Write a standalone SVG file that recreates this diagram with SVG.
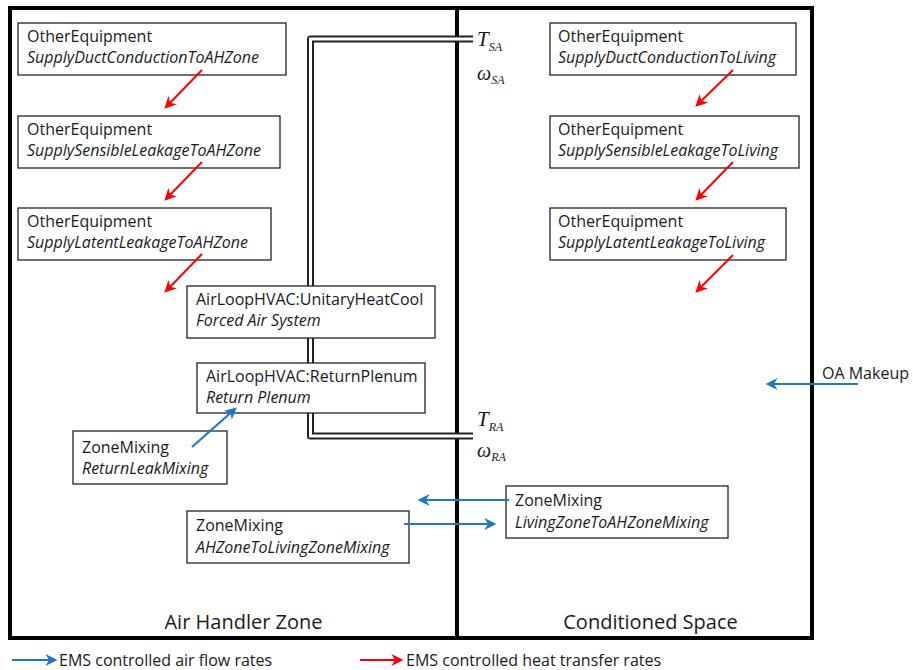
<svg xmlns="http://www.w3.org/2000/svg" width="913" height="670" viewBox="0 0 913 670">
<defs>
<style>
.box{fill:#fff;stroke:#222;stroke-width:1.3}
.t{font-family:"Open Sans","Liberation Sans",sans-serif;font-size:16px;fill:#1a1a1a}
.i{font-style:italic}
.zone{font-family:"Open Sans","Liberation Sans",sans-serif;font-size:20px;fill:#1a1a1a}
.leg{font-family:"Open Sans","Liberation Sans",sans-serif;font-size:16px;fill:#1a1a1a}
.m{font-family:"Liberation Serif",serif;font-style:italic;fill:#1a1a1a}
.red{stroke:#ff0000;stroke-width:2;fill:none;marker-end:url(#ar)}
.blue{stroke:#1f78c8;stroke-width:2.2;fill:none;marker-end:url(#ab)}
</style>
<marker id="ar" viewBox="0 0 10 10" refX="8" refY="5" markerWidth="12" markerHeight="12" orient="auto" markerUnits="userSpaceOnUse">
<path d="M0,0 L10,5 L0,10 L3,5 z" fill="#ff0000"/>
</marker>
<marker id="ab" viewBox="0 0 10 10" refX="8" refY="5" markerWidth="12" markerHeight="12" orient="auto" markerUnits="userSpaceOnUse">
<path d="M0,0 L10,5 L0,10 L3,5 z" fill="#1f78c8"/>
</marker>
</defs>
<rect width="913" height="670" fill="#fff"/>

<g id="frame">
<rect x="10" y="8" width="802" height="630" fill="none" stroke="#000" stroke-width="4"/>
<line x1="457" y1="8" x2="457" y2="638" stroke="#000" stroke-width="4"/>
</g>

<g id="duct">
<path d="M473,39 L310.5,39 L310.5,436 L473,436" fill="none" stroke="#222" stroke-width="7" stroke-linejoin="round"/>
<path d="M473,39 L310.5,39 L310.5,436 L473,436" fill="none" stroke="#fff" stroke-width="3" stroke-linejoin="miter"/>
</g>

<g id="labels-sa">
<text class="m" x="477" y="46" font-size="21">T<tspan font-size="12" dy="5">SA</tspan></text>
<text class="m" x="477" y="80" font-size="20">ω<tspan font-size="12" dy="4">SA</tspan></text>
</g>
<g id="labels-ra">
<text class="m" x="477" y="426" font-size="21">T<tspan font-size="12" dy="5">RA</tspan></text>
<text class="m" x="477" y="457" font-size="20">ω<tspan font-size="12" dy="4">RA</tspan></text>
</g>

<g id="ah-oe1">
<rect class="box" x="18" y="23" width="268" height="52"/>
<text class="t" x="27" y="42">OtherEquipment</text>
<text class="t i" x="27" y="63">SupplyDuctConductionToAHZone</text>
</g>
<g id="ah-oe2">
<rect class="box" x="18" y="116" width="262" height="52"/>
<text class="t" x="27" y="135">OtherEquipment</text>
<text class="t i" x="27" y="156">SupplySensibleLeakageToAHZone</text>
</g>
<g id="ah-oe3">
<rect class="box" x="18" y="208" width="253" height="52"/>
<text class="t" x="27" y="227">OtherEquipment</text>
<text class="t i" x="27" y="248">SupplyLatentLeakageToAHZone</text>
</g>

<g id="unitary">
<rect class="box" x="187" y="286" width="248" height="52"/>
<text class="t" x="196" y="305">AirLoopHVAC:UnitaryHeatCool</text>
<text class="t i" x="196" y="326">Forced Air System</text>
</g>
<g id="plenum">
<rect class="box" x="197" y="363" width="228" height="50"/>
<text class="t" x="206" y="382">AirLoopHVAC:ReturnPlenum</text>
<text class="t i" x="206" y="403">Return Plenum</text>
</g>
<g id="returnleak">
<rect class="box" x="73" y="431" width="154" height="53"/>
<text class="t" x="82" y="453">ZoneMixing</text>
<text class="t i" x="82" y="474">ReturnLeakMixing</text>
</g>
<g id="ah2living">
<rect class="box" x="187" y="511" width="222" height="52"/>
<text class="t" x="196" y="531">ZoneMixing</text>
<text class="t i" x="196" y="553">AHZoneToLivingZoneMixing</text>
</g>
<g id="living2ah">
<rect class="box" x="506" y="486" width="222" height="52"/>
<text class="t" x="515" y="506">ZoneMixing</text>
<text class="t i" x="515" y="528">LivingZoneToAHZoneMixing</text>
</g>

<g id="lv-oe1">
<rect class="box" x="550" y="23" width="246" height="52"/>
<text class="t" x="558" y="42">OtherEquipment</text>
<text class="t i" x="558" y="63">SupplyDuctConductionToLiving</text>
</g>
<g id="lv-oe2">
<rect class="box" x="550" y="116" width="249" height="52"/>
<text class="t" x="558" y="135">OtherEquipment</text>
<text class="t i" x="558" y="156">SupplySensibleLeakageToLiving</text>
</g>
<g id="lv-oe3">
<rect class="box" x="550" y="208" width="236" height="52"/>
<text class="t" x="558" y="227">OtherEquipment</text>
<text class="t i" x="558" y="248">SupplyLatentLeakageToLiving</text>
</g>

<g id="oa-makeup">
<text class="t" x="822" y="379">OA Makeup</text>
</g>

<g id="connectors">
<line class="red" x1="202" y1="70" x2="166" y2="107"/>
<line class="red" x1="202" y1="162" x2="166" y2="199"/>
<line class="red" x1="202" y1="254" x2="166" y2="291"/>
<line class="red" x1="733" y1="70" x2="697" y2="105"/>
<line class="red" x1="733" y1="162" x2="697" y2="199"/>
<line class="red" x1="733" y1="255" x2="697" y2="291"/>
<line class="blue" x1="192" y1="447" x2="235" y2="409"/>
<line class="blue" x1="404" y1="524" x2="494" y2="524"/>
<line class="blue" x1="509" y1="500" x2="420" y2="500"/>
<line class="blue" x1="858" y1="384" x2="768" y2="384"/>
</g>

<g id="zones">
<text class="zone" x="243.5" y="629" text-anchor="middle">Air Handler Zone</text>
<text class="zone" x="650.5" y="629" text-anchor="middle">Conditioned Space</text>
</g>

<g id="legend">
<line class="blue" x1="12" y1="660" x2="55" y2="660"/>
<text class="leg" x="59" y="666">EMS controlled air flow rates</text>
<line class="red" x1="360" y1="660" x2="401" y2="660"/>
<text class="leg" x="406" y="666">EMS controlled heat transfer rates</text>
</g>
</svg>
